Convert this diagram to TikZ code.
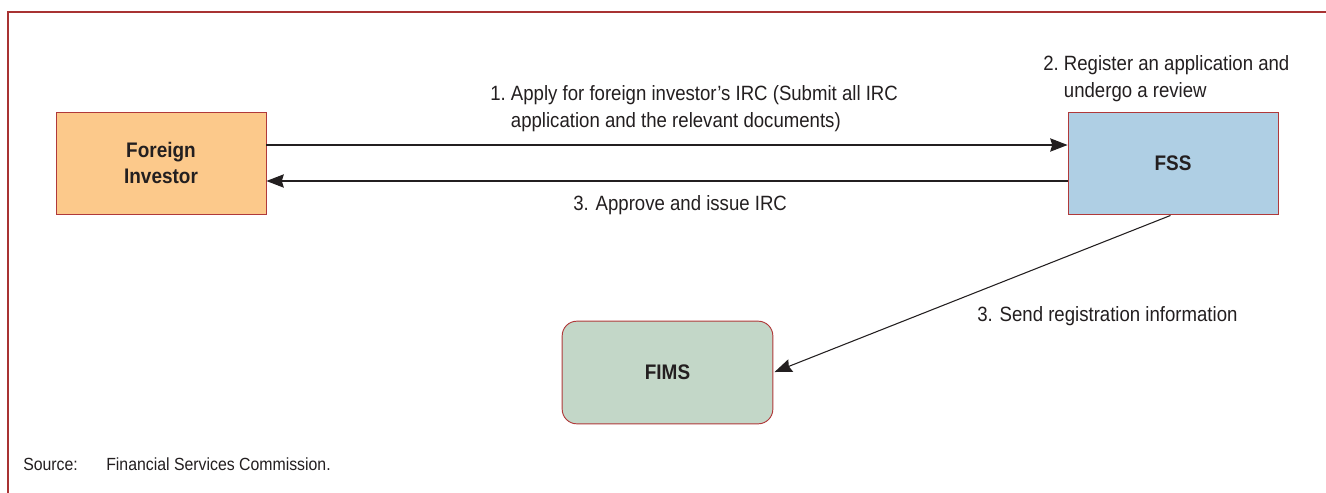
\documentclass[tikz,border=0pt]{standalone}
\usepackage{fontspec}
\setmainfont{Liberation Sans}[FakeStretch=0.9]
\usetikzlibrary{arrows.meta}
\definecolor{framered}{HTML}{A83232}
\definecolor{boxline}{HTML}{B0393A}
\definecolor{txt}{HTML}{231F20}
\definecolor{orangefill}{HTML}{FCC98B}
\definecolor{bluefill}{HTML}{AFCFE4}
\definecolor{greenfill}{HTML}{C3D7C8}
\tikzset{
  box/.style={draw=boxline, line width=0.7pt, minimum width=157.5pt, minimum height=76.5pt,
    inner sep=0pt, align=center, text=txt, font=\fontsize{15.8}{20}\selectfont\bfseries},
  lbl/.style={inner sep=0pt, anchor=base west, text=txt, font=\fontsize{15.5}{20.25}\selectfont},
  arr/.style={draw=txt, line width=0.8pt, -{Stealth[length=13pt, width=10pt, inset=1.5pt]}},
}
\begin{document}
\begin{tikzpicture}[x=0.75pt, y=-0.75pt]
\useasboundingbox (0,0) rectangle (1326,492);
\clip (0,0) rectangle (1326,492);
\fill[white] (0,0) rectangle (1326,492);
\draw[framered, line width=1.1pt] (8,12) rectangle (1420,560);

\node[box, fill=orangefill] (fi) at (161,163) {Foreign\\Investor};
\node[box, fill=bluefill] (fss) at (1173,163) {FSS};
\node[box, fill=greenfill, rounded corners=11pt, minimum width=158pt, minimum height=77pt] (fims) at (667.5,372.5) {FIMS};

\draw[arr] ([yshift=13.5pt]fi.east) -- ([yshift=13.5pt]fss.west);
\draw[arr] ([yshift=-13.5pt]fss.west) -- ([yshift=-13.5pt]fi.east);
\draw[arr, shorten <=2pt, shorten >=1pt] (fss.south) -- (fims.east);

\node[lbl] (l1) at (490,100) {\begin{tabular}[t]{@{}l@{\ }l@{}}1. & Apply for foreign investor’s IRC (Submit all IRC\\ & application and the relevant documents)\end{tabular}};
\node[lbl] (l2) at (1043,70) {\begin{tabular}[t]{@{}l@{\ }l@{}}2. & Register an application and\\ & undergo a review\end{tabular}};
\node[lbl] (l3) at (573,210) {3. Approve and issue IRC};
\node[lbl] (l4) at (977,321) {3. Send registration information};
\node[lbl, font=\fontsize{13.2}{16}\selectfont] (src) at (23,470) {Source:};
\node[lbl, font=\fontsize{13.2}{16}\selectfont] (srct) at (106,470) {Financial Services Commission.};
\end{tikzpicture}
\end{document}
